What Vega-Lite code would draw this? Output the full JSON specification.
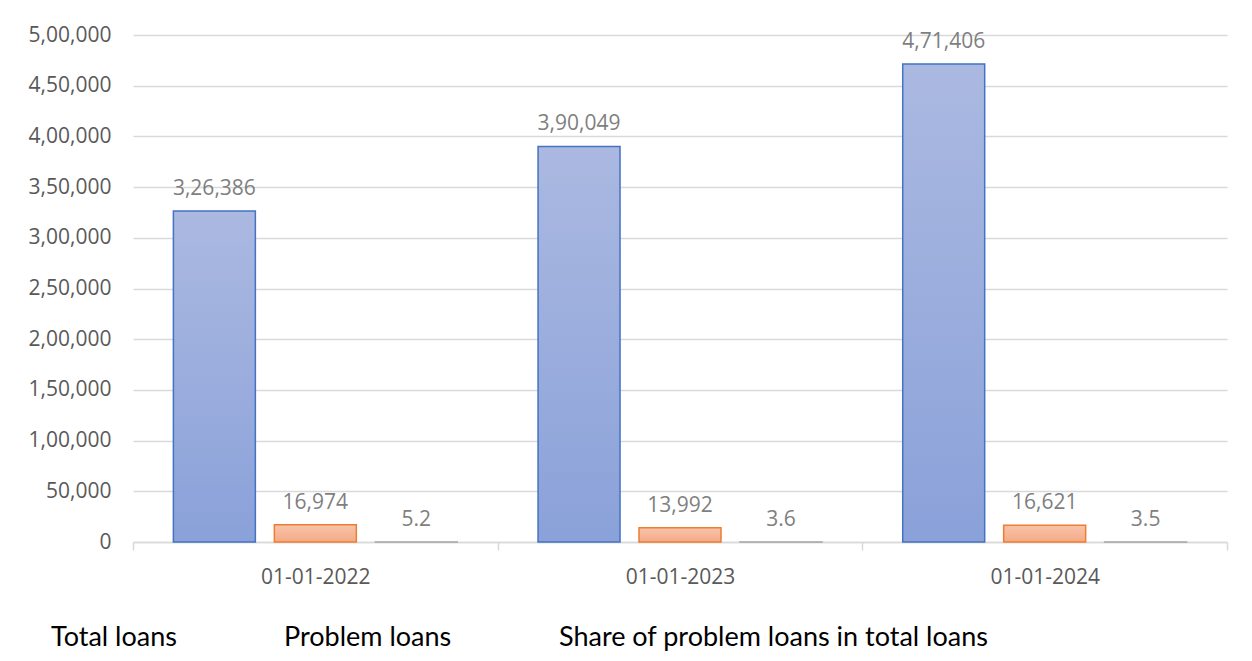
{
  "$schema": "https://vega.github.io/schema/vega-lite/v6.json",
  "width": 1094,
  "height": 507,
  "autosize": {"type": "none"},
  "padding": {"left": 133, "top": 35, "right": 25, "bottom": 119},
  "background": "white",
  "config": {
    "view": {"stroke": null},
    "font": "Open Sans"
  },
  "data": {
    "values": [
      {"date": "01-01-2022", "series": "Total loans", "value": 326386},
      {"date": "01-01-2022", "series": "Problem loans", "value": 16974},
      {"date": "01-01-2022", "series": "Share of problem loans in total loans", "value": 5.2},
      {"date": "01-01-2023", "series": "Total loans", "value": 390049},
      {"date": "01-01-2023", "series": "Problem loans", "value": 13992},
      {"date": "01-01-2023", "series": "Share of problem loans in total loans", "value": 3.6},
      {"date": "01-01-2024", "series": "Total loans", "value": 471406},
      {"date": "01-01-2024", "series": "Problem loans", "value": 16621},
      {"date": "01-01-2024", "series": "Share of problem loans in total loans", "value": 3.5}
    ]
  },
  "transform": [
    {"calculate": "datum.value < 100 ? format(datum.value, '.1f') : datum.value < 100000 ? format(datum.value, ',') : floor(datum.value / 100000) + ',' + pad(floor((datum.value % 100000) / 1000) + '', 2, '0', 'left') + ',' + pad((datum.value % 1000) + '', 3, '0', 'left')", "as": "label"}
  ],
  "encoding": {
    "x": {
      "field": "date", "type": "nominal",
      "scale": {"paddingInner": 0, "paddingOuter": 0},
      "axis": {
        "title": null, "labelAngle": 0, "labelFontSize": 21, "labelColor": "#595959",
        "labelPadding": 16, "domainColor": "#D9D9D9", "domainWidth": 1.5,
        "tickColor": "#D9D9D9", "tickWidth": 1.5, "tickSize": 8, "tickBand": "extent"
      }
    },
    "xOffset": {
      "field": "series", "type": "nominal",
      "scale": {"domain": ["Total loans", "Problem loans", "Share of problem loans in total loans"], "paddingInner": 0.188, "paddingOuter": 0.4}
    },
    "y": {
      "field": "value", "type": "quantitative",
      "scale": {"domain": [0, 500000], "nice": false},
      "axis": {
        "title": null, "values": [0, 50000, 100000, 150000, 200000, 250000, 300000, 350000, 400000, 450000, 500000],
        "labelExpr": "datum.value < 100000 ? format(datum.value, ',') : floor(datum.value / 100000) + ',' + pad(floor((datum.value % 100000) / 1000) + '', 2, '0', 'left') + ',' + pad((datum.value % 1000) + '', 3, '0', 'left')",
        "labelFontSize": 21, "labelColor": "#595959", "labelPadding": 22,
        "domain": false, "ticks": false, "gridColor": "#D9D9D9", "gridWidth": 1.5
      }
    }
  },
  "layer": [
    {
      "transform": [{"filter": "datum.series === 'Total loans'"}],
      "mark": {
        "type": "bar", "strokeWidth": 1.5,
        "fill": {"gradient": "linear", "x1": 0, "y1": 0, "x2": 0, "y2": 1, "stops": [{"offset": 0, "color": "#ABB9E1"}, {"offset": 1, "color": "#8AA1D9"}]}
      },
      "encoding": {
        "stroke": {
          "field": "series", "type": "nominal",
          "scale": {"domain": ["Total loans", "Problem loans", "Share of problem loans in total loans"], "range": ["#4472C4", "#ED7D31", "#A5A5A5"]},
          "legend": {
            "title": null, "orient": "none", "legendX": -109, "legendY": 589, "direction": "horizontal",
            "symbolOpacity": 0, "symbolSize": 0, "symbolStrokeWidth": 0, "labelOffset": 0,
            "labelFontSize": 27, "labelColor": "#000000", "labelFont": "Lato", "labelLimit": 0,
            "columnPadding": 80
          }
        }
      }
    },
    {
      "transform": [{"filter": "datum.series === 'Problem loans'"}],
      "mark": {
        "type": "bar", "strokeWidth": 1.5,
        "fill": {"gradient": "linear", "x1": 0, "y1": 0, "x2": 0, "y2": 1, "stops": [{"offset": 0, "color": "#F8C4AA"}, {"offset": 1, "color": "#F4AA86"}]}
      },
      "encoding": {
        "stroke": {"field": "series", "type": "nominal"}
      }
    },
    {
      "transform": [{"filter": "datum.series === 'Share of problem loans in total loans'"}],
      "mark": {
        "type": "bar", "strokeWidth": 1.5,
        "fill": {"gradient": "linear", "x1": 0, "y1": 0, "x2": 0, "y2": 1, "stops": [{"offset": 0, "color": "#D2D2D2"}, {"offset": 1, "color": "#C0C0C0"}]}
      },
      "encoding": {
        "stroke": {"field": "series", "type": "nominal"}
      }
    },
    {
      "mark": {"type": "text", "baseline": "bottom", "dy": -12, "fontSize": 21, "color": "#7F7F7F"},
      "encoding": {
        "text": {"field": "label", "type": "nominal"}
      }
    }
  ]
}
